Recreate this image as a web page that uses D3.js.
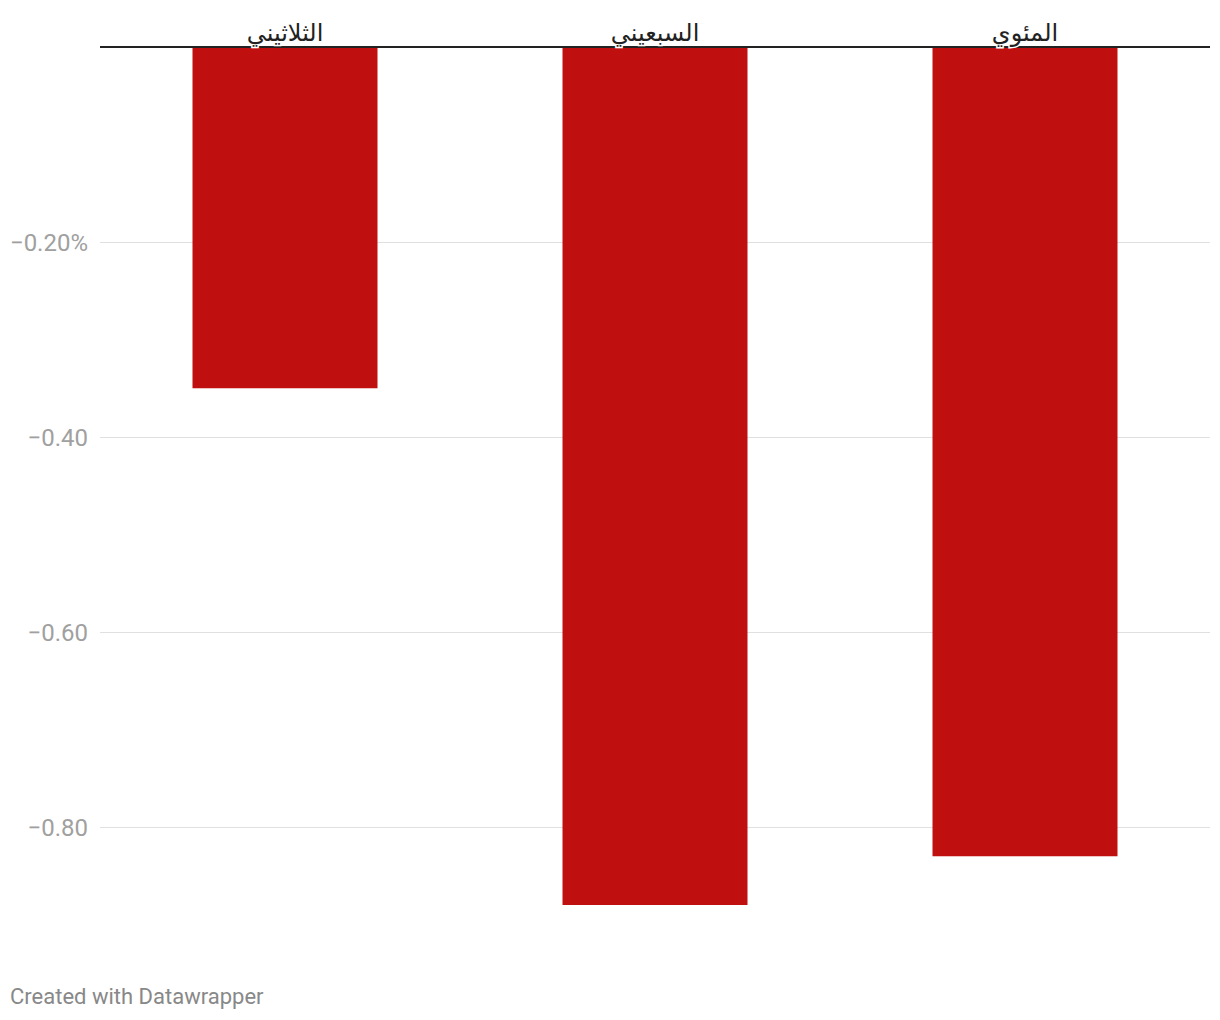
<!DOCTYPE html>
<html>
<head>
<meta charset="utf-8">
<script src="https://cdn.jsdelivr.net/npm/d3@7"></script>
<style>
  html, body { margin: 0; padding: 0; background: #fff; }
  svg { display: block; }
</style>
</head>
<body>
<svg id="chart" width="1220" height="1020"></svg>
<script>
const categories = ["الثلاثيني", "السبعيني", "المئوي"];
const values = [-0.35, -0.88, -0.83];
const tickValues = [-0.2, -0.4, -0.6, -0.8];
const tickLabels = ["−0.20%", "−0.40", "−0.60", "−0.80"];

(function () {
const svg = d3.select("#chart");
const mLeft = 100, mRight = 1210, mTop = 47;
const y = d3.scaleLinear().domain([0, -0.2]).range([mTop, mTop + 195]);
const x = d3.scaleBand().domain(categories).range([mLeft, mRight]).paddingInner(0.5).paddingOuter(0.25);

// gridlines + tick labels
const grid = svg.append("g");
tickValues.forEach((t, i) => {
  const yy = Math.round(y(t)) + 0.5;
  grid.append("line").attr("x1", mLeft).attr("x2", mRight).attr("y1", yy).attr("y2", yy)
    .attr("stroke", "#e0e0e0").attr("stroke-width", 1);
  grid.append("text").attr("x", 88).attr("y", yy).attr("dy", "0.35em")
    .attr("text-anchor", "end").attr("font-family", "Roboto, sans-serif")
    .attr("font-size", 24).attr("fill", "#a0a0a0").text(tickLabels[i]);
});

// bars
svg.append("g").selectAll("rect").data(values).join("rect")
  .attr("x", (d, i) => x(categories[i]))
  .attr("width", x.bandwidth())
  .attr("y", y(0))
  .attr("height", d => y(d) - y(0))
  .attr("fill", "#c00f0f");

// zero line
svg.append("line").attr("x1", mLeft).attr("x2", mRight).attr("y1", mTop).attr("y2", mTop)
  .attr("stroke", "#222").attr("stroke-width", 2);

// category labels
svg.append("g").selectAll("text").data(categories).join("text")
  .attr("x", d => x(d) + x.bandwidth() / 2)
  .attr("y", 41)
  .attr("text-anchor", "middle")
  .attr("font-family", "'Noto Sans', 'DejaVu Sans', sans-serif")
  .attr("font-size", 24)
  .attr("fill", "#222")
  .attr("stroke", "#fff").attr("stroke-width", 3).attr("paint-order", "stroke")
  .text(d => d);

// footer
svg.append("text").attr("x", 10).attr("y", 1004)
  .attr("font-family", "Roboto, sans-serif").attr("font-size", 22)
  .attr("fill", "#888").text("Created with Datawrapper");
})();
</script>
</body>
</html>
